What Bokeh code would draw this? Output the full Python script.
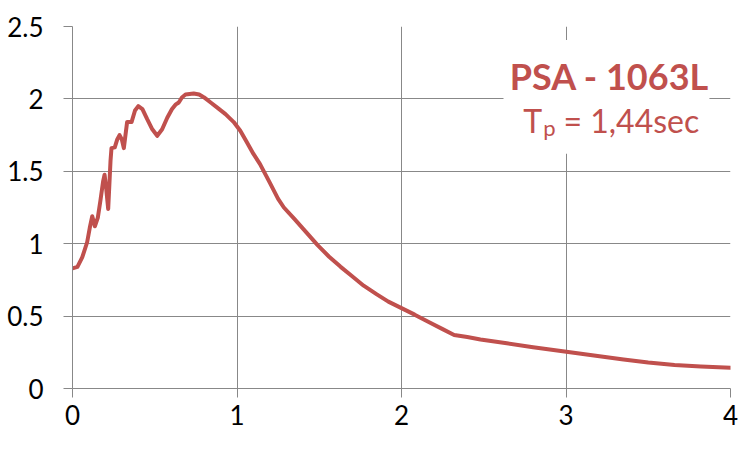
from bokeh.plotting import figure
from bokeh.models import Range1d, FixedTicker, BoxAnnotation, Label, CustomJSTickFormatter
from bokeh.embed import file_html
from bokeh.resources import INLINE

# Period (s) and pseudo-spectral acceleration values
period = [0.00, 0.03, 0.059, 0.089, 0.105, 0.12, 0.136, 0.154, 0.17, 0.186, 0.195,
          0.205, 0.217, 0.231, 0.237, 0.257, 0.272, 0.286, 0.30, 0.312, 0.332, 0.359,
          0.38, 0.40, 0.425, 0.454, 0.485, 0.515, 0.545, 0.576, 0.605, 0.626, 0.646,
          0.665, 0.687, 0.737, 0.77, 0.80, 0.84, 0.88, 0.93, 0.98, 1.02, 1.06, 1.10,
          1.14, 1.20, 1.25, 1.285, 1.35, 1.42, 1.49, 1.56, 1.63, 1.70, 1.77, 1.85,
          1.92, 2.00, 2.08, 2.18, 2.25, 2.32, 2.40, 2.48, 2.64, 2.80, 2.98, 3.17,
          3.35, 3.50, 3.66, 3.82, 4.00]
psa = [0.83, 0.84, 0.905, 1.01, 1.11, 1.19, 1.12, 1.18, 1.30, 1.43, 1.476,
       1.38, 1.24, 1.57, 1.66, 1.665, 1.72, 1.75, 1.72, 1.66, 1.84, 1.84,
       1.92, 1.95, 1.93, 1.86, 1.79, 1.745, 1.79, 1.87, 1.93, 1.96, 1.975,
       2.01, 2.03, 2.037, 2.03, 2.01, 1.975, 1.94, 1.895, 1.84, 1.78, 1.70, 1.62,
       1.55, 1.42, 1.31, 1.25, 1.17, 1.08, 0.99, 0.91, 0.84, 0.775, 0.71, 0.65,
       0.60, 0.555, 0.51, 0.45, 0.41, 0.37, 0.355, 0.338, 0.312, 0.285, 0.257, 0.228,
       0.200, 0.180, 0.163, 0.152, 0.143]

x_ticks = [0, 1, 2, 3, 4]
y_ticks = [0, 0.5, 1, 1.5, 2, 2.5]

title_text = "PSA - 1063L"
tp_main = "T"
tp_sub = "p"
tp_rest = "= 1,44sec"

RED = "#C0504D"
GRID = "#888888"
FONT = "Lato"

p = figure(width=739, height=442, output_backend="svg", toolbar_location=None,
           x_range=Range1d(0, 4), y_range=Range1d(0, 2.5),
           min_border_left=72, min_border_right=9, min_border_top=26, min_border_bottom=54)
p.outline_line_color = None
p.background_fill_color = "white"

for ax in (p.xaxis[0], p.yaxis[0]):
    ax.axis_line_color = GRID
    ax.major_tick_line_color = GRID
    ax.major_tick_out = 9
    ax.major_tick_in = 0
    ax.minor_tick_line_color = None
    ax.major_label_text_font = FONT
    ax.major_label_text_font_size = "26px"
    ax.major_label_text_color = "#000000"

p.xaxis[0].ticker = FixedTicker(ticks=x_ticks)
p.yaxis[0].ticker = FixedTicker(ticks=y_ticks)
p.xaxis[0].major_label_standoff = 7
p.yaxis[0].major_label_standoff = 20
p.yaxis[0].formatter = CustomJSTickFormatter(code="return tick.toString();")
p.xaxis[0].formatter = CustomJSTickFormatter(code="return tick.toString();")

p.xgrid.ticker = FixedTicker(ticks=x_ticks)
p.ygrid.ticker = FixedTicker(ticks=y_ticks)
p.xgrid.grid_line_color = GRID
p.ygrid.grid_line_color = GRID

p.line(period, psa, line_color=RED, line_width=4, line_join="round", line_cap="round")

box = BoxAnnotation(left=2.62, right=3.872, top=2.407, bottom=1.621,
                    fill_color="white", fill_alpha=1.0, line_color=None)
p.add_layout(box)

p.add_layout(Label(x=3.265, y=2.161, text=title_text, text_align="center",
                   text_baseline="alphabetic", text_font=FONT, text_font_style="bold",
                   text_font_size="36px", text_color=RED))
p.add_layout(Label(x=2.74, y=1.851, text=tp_main, text_align="left",
                   text_baseline="alphabetic", text_font=FONT,
                   text_font_size="32px", text_color=RED))
p.add_layout(Label(x=2.861, y=1.80, text=tp_sub, text_align="left",
                   text_baseline="alphabetic", text_font=FONT,
                   text_font_size="22px", text_color=RED))
p.add_layout(Label(x=2.985, y=1.851, text=tp_rest, text_align="left",
                   text_baseline="alphabetic", text_font=FONT,
                   text_font_size="32px", text_color=RED))

open("out.html", "w").write(file_html(p, INLINE))
